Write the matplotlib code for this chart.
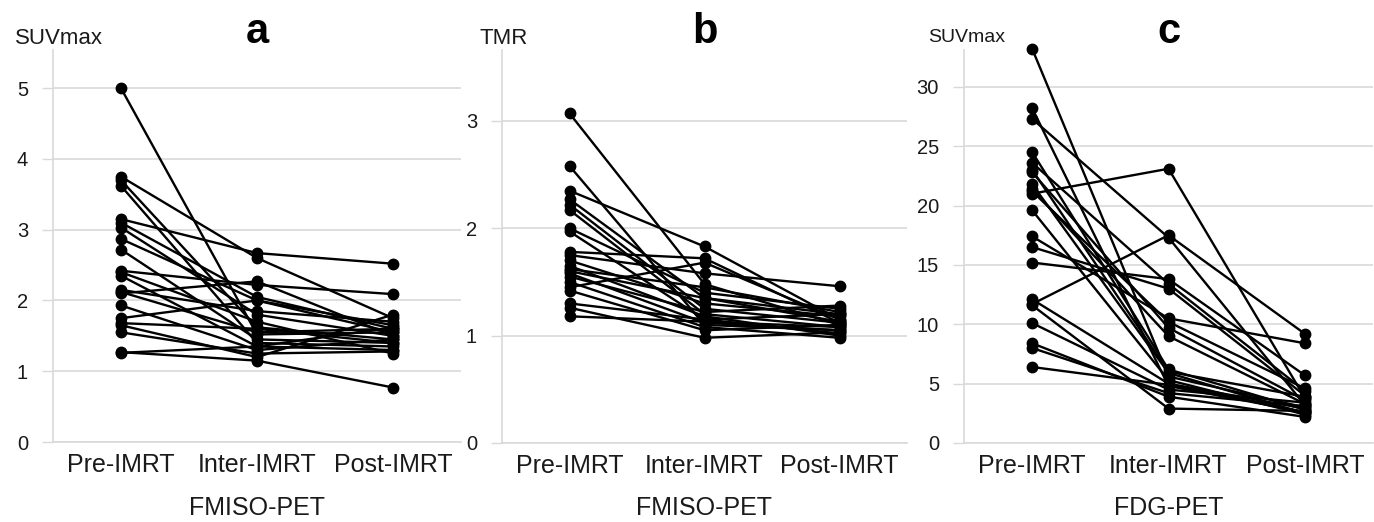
import matplotlib
matplotlib.use("Agg")
import matplotlib.pyplot as plt

plt.rcParams['font.family'] = ['Liberation Sans', 'DejaVu Sans']

phases = ["Pre-IMRT", "Inter-IMRT", "Post-IMRT"]

# FMISO-PET SUVmax per patient
fmiso_suv_pre = [5.00, 3.75, 3.70, 3.62, 3.15, 3.10, 3.03, 2.87, 2.72, 2.42, 2.35,
                 2.15, 2.12, 2.10, 1.93, 1.75, 1.68, 1.55, 1.27, 1.26, 2.40, 1.65]
fmiso_suv_inter = [1.52, 2.60, 1.62, 1.40, 2.67, 2.05, 1.80, 2.00, 1.45, 2.22, 1.35,
                   1.85, 1.55, 2.27, 1.30, 2.00, 1.60, 1.25, 1.15, 1.35, 1.70, 1.20]
fmiso_suv_post = [1.55, 1.75, 1.45, 1.35, 2.52, 1.60, 1.50, 1.65, 1.40, 2.09, 1.30,
                  1.70, 1.60, 1.50, 1.45, 1.55, 1.40, 1.28, 0.77, 1.62, 1.25, 1.80]

# FMISO-PET tumour-to-muscle ratio per patient
fmiso_tmr_pre = [3.07, 2.58, 2.35, 2.27, 2.22, 2.17, 2.00, 1.97, 1.78, 1.75, 1.70,
                 1.65, 1.62, 1.58, 1.55, 1.50, 1.45, 1.42, 1.30, 1.26, 1.18, 1.60]
fmiso_tmr_inter = [1.48, 1.10, 1.83, 1.35, 1.25, 1.20, 1.40, 1.15, 1.72, 1.58, 1.30,
                   1.18, 1.45, 1.12, 1.22, 1.08, 1.68, 1.05, 1.15, 0.98, 1.13, 1.35]
fmiso_tmr_post = [1.10, 1.05, 1.15, 1.20, 1.12, 1.08, 1.25, 1.02, 1.12, 1.46, 1.18,
                  1.00, 1.22, 1.05, 1.28, 0.98, 1.15, 1.10, 1.20, 1.03, 1.08, 1.13]

# FDG-PET SUVmax per patient
fdg_suv_pre = [33.2, 28.2, 27.3, 24.5, 23.6, 22.8, 21.8, 21.4, 21.0, 19.6, 17.4,
               16.5, 15.2, 12.1, 11.7, 11.6, 10.1, 8.4, 8.0, 6.4, 21.2, 23.0]
fdg_suv_inter = [5.6, 4.8, 17.3, 6.2, 13.4, 9.7, 5.9, 9.0, 23.1, 5.3, 10.5,
                 13.0, 13.8, 5.0, 17.5, 2.9, 4.5, 3.9, 4.2, 4.9, 10.2, 6.0]
fdg_suv_post = [3.0, 2.6, 3.2, 2.8, 4.4, 3.6, 2.5, 3.3, 3.8, 2.4, 8.4,
                4.0, 5.7, 2.9, 9.2, 2.7, 3.4, 2.2, 3.1, 2.6, 4.6, 3.9]

panels = [
    dict(letter="a", ylabel="SUVmax", xlabel="FMISO-PET", ylabel_size=16,
         series=(fmiso_suv_pre, fmiso_suv_inter, fmiso_suv_post),
         ticks=[0, 1, 2, 3, 4, 5], ytop=5.54, rect=(53, 461, 442), ylab_x=59),
    dict(letter="b", ylabel="TMR", xlabel="FMISO-PET", ylabel_size=16,
         series=(fmiso_tmr_pre, fmiso_tmr_inter, fmiso_tmr_post),
         ticks=[0, 1, 2, 3], ytop=3.66, rect=(502, 907, 443), ylab_x=504),
    dict(letter="c", ylabel="SUVmax", xlabel="FDG-PET", ylabel_size=14,
         series=(fdg_suv_pre, fdg_suv_inter, fdg_suv_post),
         ticks=[0, 5, 10, 15, 20, 25, 30], ytop=33.1, rect=(964, 1373, 443), ylab_x=967),
]

W, H = 1374, 522
fig = plt.figure(figsize=(W / 100, H / 100), dpi=100)
grid_c = "#d9d9d9"
text_c = "#1a1a1a"
top_px = 50

for p in panels:
    left, right, bottom = p["rect"]
    ax = fig.add_axes([left / W, (H - bottom) / H, (right - left) / W, (bottom - top_px) / H])
    pre, inter, post = p["series"]
    x = list(range(len(phases)))
    for a, b, c in zip(pre, inter, post):
        ax.plot(x, [a, b, c], color="black", lw=1.7, marker="o", ms=7.5,
                solid_capstyle="round", clip_on=False, zorder=3)
    ax.set_xlim(-0.5, 2.5)
    ax.set_ylim(0, p["ytop"])
    ax.set_yticks(p["ticks"])
    ax.set_yticklabels([str(t) for t in p["ticks"]], fontsize=14.5, color=text_c)
    ax.set_xticks(x)
    ax.set_xticklabels(phases, fontsize=18, color=text_c)
    ax.tick_params(axis="x", length=0, pad=8)
    ax.tick_params(axis="y", length=8, width=1, color=grid_c, pad=10)
    ax.yaxis.grid(True, color=grid_c, lw=1.2)
    ax.set_axisbelow(True)
    for s in ("top", "right"):
        ax.spines[s].set_visible(False)
    for s in ("left", "bottom"):
        ax.spines[s].set_color(grid_c)
        ax.spines[s].set_linewidth(1.2)
    cx = (left + (right - left) / 2) / W
    fig.text(cx, (H - 43) / H, p["letter"], fontsize=30, fontweight="bold",
             ha="center", va="baseline", color="black")
    fig.text(p["ylab_x"] / W, (H - 38) / H, p["ylabel"], fontsize=p["ylabel_size"],
             ha="center", va="center", color=text_c)
    fig.text(cx, (H - 508) / H, p["xlabel"], fontsize=18, ha="center", va="center", color=text_c)

fig.savefig("out.png", dpi=100, facecolor="white")
